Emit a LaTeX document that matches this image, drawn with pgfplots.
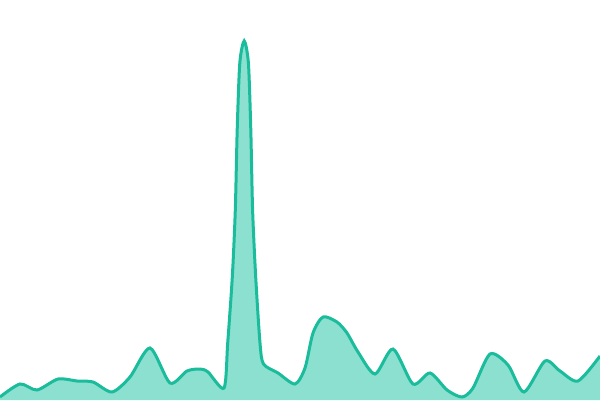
\documentclass[border=0pt]{standalone}
\usepackage{pgfplots}
\pgfplotsset{compat=1.18}
\definecolor{lc}{HTML}{1ABC9C}
\definecolor{fc}{HTML}{8CE0D0}
\pgfplotstableread{
x y
0 3
20 16
37 10
58 21
77 19
93 18
112 8
130 23
150 52
170 17
187 29
200 31
208 28
224 12
227.7 57
232.3 123
235.3 190
237.2 270
239.8 337
244.2 359
248.4 337
250.8 270
252.6 190
255.7 123
260 57
263.5 36
278 27
295 16
305 32
313 67
323 83
337 78
347 67
358 48
375 26
393 51
413 16
430 27
447 10
462 3
473 12
490 46
508 35
524 8
545 39
560 29
578 19
600 44
}\data
\begin{document}
\begin{tikzpicture}
\begin{axis}[hide axis, scale only axis, width=600pt, height=400pt,
  xmin=0, xmax=600, ymin=0, ymax=400, clip=true]
\addplot[draw=none, fill=fc, smooth, tension=0.45] table[x=x,y=y]{\data} \closedcycle;
\addplot[draw=lc, line width=3pt, smooth, tension=0.45] table[x=x,y=y]{\data};
\end{axis}
\pgfresetboundingbox
\path[use as bounding box] (current axis.south west) rectangle (current axis.north east);
\end{tikzpicture}
\end{document}
